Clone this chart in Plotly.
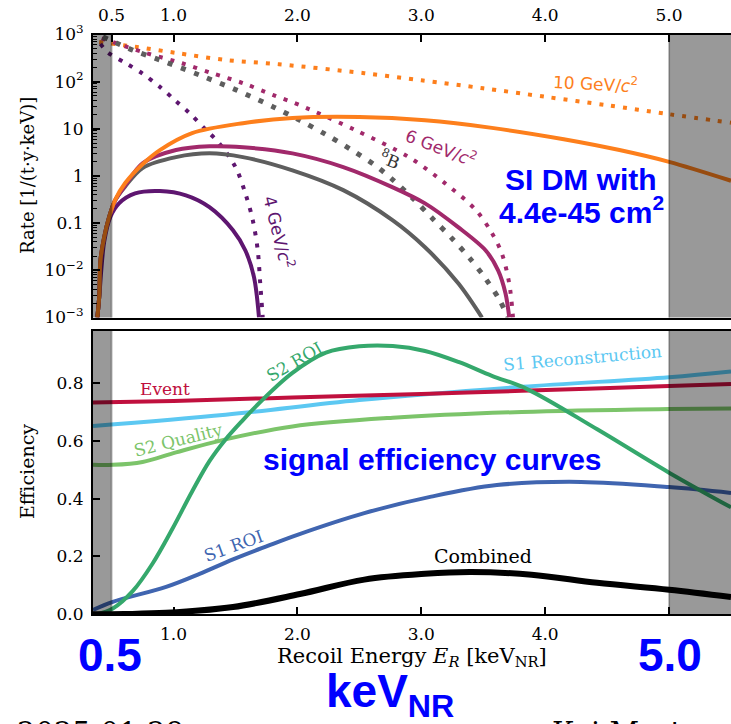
import plotly.graph_objects as go

W, H = 731, 724

# ---------------- data ----------------
# Top panel: rate spectra, stored as log10(rate [1/(t y keV)])
E_dm10_dot = [0.40, 0.69, 1.02, 1.42, 1.85, 2.54, 3.0, 3.5, 4.0, 4.5, 5.0, 5.5]
L_dm10_dot = [2.84, 2.74, 2.61, 2.46, 2.37, 2.18, 2.03, 1.86, 1.68, 1.50, 1.31, 1.13]

E_dm6_dot = [0.42, 0.75, 1.07, 1.31, 1.56, 1.80, 2.02, 2.47, 2.90, 3.19, 3.44, 3.57, 3.65, 3.71, 3.74]
L_dm6_dot = [2.92, 2.63, 2.39, 2.18, 1.97, 1.72, 1.50, 0.97, 0.40, -0.15, -0.72, -1.21, -1.64, -2.28, -3.0]

E_dm4_dot = [0.41, 0.47, 0.61, 0.75, 0.89, 1.01, 1.13, 1.25, 1.37, 1.50, 1.58, 1.64, 1.68, 1.70, 1.72]
L_dm4_dot = [2.80, 2.62, 2.40, 2.17, 1.89, 1.61, 1.33, 1.01, 0.69, 0.19, -0.37, -0.94, -1.58, -2.28, -3.0]

E_b8_dot = [0.43, 0.67, 0.89, 1.21, 1.51, 1.81, 2.02, 2.23, 2.44, 2.63, 2.77, 2.93, 3.09, 3.25, 3.39, 3.52, 3.63, 3.70]
L_b8_dot = [2.95, 2.67, 2.46, 2.14, 1.82, 1.46, 1.18, 0.88, 0.55, 0.22, -0.08, -0.47, -0.90, -1.33, -1.74, -2.18, -2.62, -3.0]

E_dm10 = [0.385, 0.40, 0.41, 0.44, 0.48, 0.53, 0.61, 0.75, 0.89, 1.15, 1.56, 1.96, 2.50, 3.03, 3.57, 4.15, 4.6, 5.0, 5.5]
L_dm10 = [-3.0, -2.57, -1.79, -1.30, -0.87, -0.50, -0.15, 0.25, 0.55, 0.91, 1.12, 1.23, 1.25, 1.18, 1.02, 0.78, 0.55, 0.30, -0.10]

E_dm6 = [0.385, 0.40, 0.41, 0.44, 0.48, 0.53, 0.61, 0.75, 1.02, 1.29, 1.56, 1.96, 2.37, 2.77, 3.03, 3.30, 3.52, 3.62, 3.68, 3.71]
L_dm6 = [-3.0, -2.57, -1.79, -1.30, -0.87, -0.51, -0.20, 0.27, 0.55, 0.63, 0.61, 0.48, 0.19, -0.24, -0.58, -1.09, -1.58, -2.0, -2.49, -3.0]

E_b8 = [0.385, 0.40, 0.41, 0.44, 0.48, 0.53, 0.61, 0.75, 1.02, 1.29, 1.56, 1.96, 2.37, 2.77, 3.03, 3.30, 3.49]
L_b8 = [-3.0, -2.57, -1.79, -1.30, -0.87, -0.51, -0.22, 0.17, 0.40, 0.48, 0.40, 0.12, -0.30, -0.94, -1.51, -2.28, -3.0]

E_dm4 = [0.385, 0.40, 0.44, 0.49, 0.56, 0.69, 0.89, 1.10, 1.29, 1.48, 1.58, 1.65, 1.69]
L_dm4 = [-3.0, -2.57, -1.40, -0.87, -0.58, -0.37, -0.32, -0.41, -0.66, -1.15, -1.58, -2.15, -3.0]

# Bottom panel: efficiencies
E_event = [0.35, 1.0, 1.96, 3.0, 3.81, 5.0, 5.5]
eff_event = [0.733, 0.738, 0.75, 0.762, 0.773, 0.79, 0.797]

E_s1reco = [0.35, 1.42, 2.50, 3.81, 5.0, 5.5]
eff_s1reco = [0.651, 0.69, 0.741, 0.787, 0.82, 0.84]

E_s2q = [0.35, 0.51, 0.75, 1.02, 1.42, 1.96, 2.77, 3.81, 5.0, 5.5]
eff_s2q = [0.517, 0.517, 0.527, 0.56, 0.605, 0.65, 0.68, 0.70, 0.71, 0.712]

E_s2roi = [0.38, 0.51, 0.67, 0.83, 0.99, 1.15, 1.29, 1.42, 1.56, 1.69, 1.96, 2.23, 2.50, 2.77, 3.03, 3.30, 3.57, 3.85, 4.42, 5.0, 5.5]
eff_s2roi = [0.0, 0.02, 0.08, 0.175, 0.295, 0.425, 0.53, 0.605, 0.672, 0.73, 0.835, 0.905, 0.927, 0.928, 0.911, 0.873, 0.825, 0.78, 0.64, 0.49, 0.37]

E_s1roi = [0.35, 0.51, 0.94, 1.21, 1.48, 1.75, 2.0, 2.54, 3.08, 3.61, 4.29, 5.0, 5.5]
eff_s1roi = [0.015, 0.043, 0.095, 0.14, 0.19, 0.235, 0.275, 0.35, 0.407, 0.447, 0.458, 0.44, 0.42]

E_comb = [0.35, 0.6, 0.94, 1.48, 2.02, 2.54, 3.03, 3.40, 3.89, 4.42, 5.0, 5.5]
eff_comb = [0.0, 0.001, 0.005, 0.025, 0.07, 0.12, 0.14, 0.146, 0.137, 0.109, 0.085, 0.06]

top_tickvals = [0.5, 1.0, 2.0, 3.0, 4.0, 5.0]
top_ticktext = ["0.5", "1.0", "2.0", "3.0", "4.0", "5.0"]
bot_tickvals = [1.0, 2.0, 3.0, 4.0, 5.0]
bot_ticktext = ["1.0", "2.0", "3.0", "4.0", ""]
rate_tickvals = [1e-3, 1e-2, 0.1, 1, 10, 100, 1000]
rate_ticktext = ["10<sup>−3</sup>", "10<sup>−2</sup>", "0.1", "1", "10", "10<sup>2</sup>", "10<sup>3</sup>"]
eff_tickvals = [0.0, 0.2, 0.4, 0.6, 0.8]
eff_ticktext = ["0.0", "0.2", "0.4", "0.6", "0.8"]
minor_rate = [m * 10.0 ** d for d in range(-3, 3) for m in range(2, 10)]

# ---------------- styling ----------------
C_OR = "#fd7f1c"
C_MG = "#a1296b"
C_PU = "#5e1670"
C_GR = "#5e5e5e"
C_EV = "#c0103e"
C_S1R = "#5cc8f2"
C_S2Q = "#7cc46a"
C_S2ROI = "#35a86c"
C_S1ROI = "#4065b0"
SERIF = "DejaVu Serif"
SANS = "DejaVu Sans"
BLUE = "#0000ff"


def px(x):
    return x / W


def py(y):
    return 1 - y / H


def tolin(L):
    return [10 ** v for v in L]


fig = go.Figure()

def add_top(E, L, color, dotted, width=4, dash="4px,8px"):
    fig.add_trace(go.Scatter(
        x=E, y=tolin(L), mode="lines", xaxis="x", yaxis="y",
        line=dict(color=color, width=width, dash=dash if dotted else "solid",
                  shape="spline", smoothing=0.9),
        showlegend=False, hoverinfo="skip"))

add_top(E_dm10_dot, L_dm10_dot, C_OR, True)
add_top(E_dm6_dot, L_dm6_dot, C_MG, True)
add_top(E_dm4_dot, L_dm4_dot, C_PU, True)
add_top(E_b8_dot, L_b8_dot, C_GR, True, width=5, dash="5px,9px")
add_top(E_dm4, L_dm4, C_PU, False)
add_top(E_b8, L_b8, C_GR, False)
add_top(E_dm6, L_dm6, C_MG, False)
add_top(E_dm10, L_dm10, C_OR, False)

def add_bot(E, eff, color, width=4):
    fig.add_trace(go.Scatter(
        x=E, y=eff, mode="lines", xaxis="x2", yaxis="y2",
        line=dict(color=color, width=width, shape="spline", smoothing=1.0),
        showlegend=False, hoverinfo="skip"))

add_bot(E_s2q, eff_s2q, C_S2Q)
add_bot(E_s1reco, eff_s1reco, C_S1R)
add_bot(E_event, eff_event, C_EV)
add_bot(E_s1roi, eff_s1roi, C_S1ROI)
add_bot(E_s2roi, eff_s2roi, C_S2ROI)
add_bot(E_comb, eff_comb, "#000000", width=6)

X0 = 93 / W
top_dom = [py(317.5), py(34.5)]
bot_dom = [py(614.3), py(331)]
tick_font = dict(family=SERIF, size=17, color="black")

axis_common = dict(showline=True, linewidth=2, linecolor="black", mirror=True,
                   showgrid=False, zeroline=False, ticks="inside", ticklen=7,
                   tickwidth=2, tickcolor="black", tickfont=tick_font,
                   automargin=False)

fig.update_layout(
    width=W, height=H,
    margin=dict(l=0, r=0, t=0, b=0),
    paper_bgcolor="white", plot_bgcolor="white",
    showlegend=False,
    xaxis=dict(domain=[X0, 1.0], range=[0.35, 5.5], anchor="y", side="top",
               tickmode="array", tickvals=top_tickvals, ticktext=top_ticktext,
               ticklabelstandoff=5, **axis_common),
    yaxis=dict(domain=top_dom, type="log", range=[-3, 3], anchor="x",
               tickmode="array", tickvals=rate_tickvals, ticktext=rate_ticktext,
               ticklabelstandoff=4,
               minor=dict(tickmode="array", tickvals=minor_rate, ticks="inside",
                          ticklen=4, tickwidth=1, tickcolor="black"),
               **axis_common),
    xaxis2=dict(domain=[X0, 1.0], range=[0.35, 5.5], anchor="y2",
                tickmode="array", tickvals=bot_tickvals, ticktext=bot_ticktext,
                ticklabelstandoff=3, **axis_common),
    yaxis2=dict(domain=bot_dom, range=[0, 0.98], anchor="x2",
                tickmode="array", tickvals=eff_tickvals, ticktext=eff_ticktext,
                ticklabelstandoff=4, **axis_common),
)

# shaded regions outside 0.5 - 5.0 keV
for xr, yr in (("x", "y domain"), ("x2", "y2 domain")):
    for a, b, edge in ((0.35, 0.5, 0.5), (5.0, 5.5, 5.0)):
        fig.add_shape(type="rect", xref=xr, yref=yr, x0=a, x1=b, y0=0, y1=1,
                      fillcolor="rgba(0,0,0,0.4)", line=dict(width=0), layer="above")
        fig.add_shape(type="line", xref=xr, yref=yr, x0=edge, x1=edge, y0=0, y1=1,
                      line=dict(color="rgba(0,0,0,0.25)", width=2), layer="above")

def ann(text, x, y, size=17, color="black", family=SERIF, angle=0, bold=False,
        xanchor="center", yanchor="middle"):
    if bold:
        text = "<b>" + text + "</b>"
    fig.add_annotation(text=text, x=px(x), y=py(y), xref="paper", yref="paper",
                       showarrow=False, textangle=angle, xanchor=xanchor,
                       yanchor=yanchor,
                       font=dict(family=family, size=size, color=color))

# top panel labels
ann("10 GeV/<i>c</i><sup>2</sup>", 595, 83, size=17, color=C_OR, family=SANS, angle=3)
ann("6 GeV/<i>c</i><sup>2</sup>", 441, 147, size=17, color=C_MG, family=SANS, angle=21)
ann("<sup>8</sup>B", 390, 159, size=17, color="#333333", family=SERIF, angle=22)
ann("4 GeV/<i>c</i><sup>2</sup>", 279, 232, size=17, color=C_PU, family=SANS, angle=76)
ann("SI DM with", 581, 179, size=30, color=BLUE, family="Liberation Sans", bold=True)
ann("4.4e-45 cm<sup>2</sup>", 581, 210, size=30, color=BLUE, family="Liberation Sans", bold=True)

# bottom panel labels
ann("Event", 165, 389, size=17, color=C_EV)
ann("S2 ROI", 294, 362, size=17, color=C_S2ROI, angle=-30)
ann("S1 Reconstruction", 582, 358, size=17, color=C_S1R, angle=-5)
ann("S2 Quality", 178, 440, size=17, color=C_S2Q, angle=-14)
ann("S1 ROI", 233, 546, size=17, color=C_S1ROI, angle=-20)
ann("Combined", 483, 556, size=19, color="black")
ann("signal efficiency curves", 432, 459, size=30, color=BLUE, family="Liberation Sans", bold=True)

# axis titles
ann("Rate [1/(t·y·keV)]", 27, 176, size=18, angle=-90)
ann("Efficiency", 27, 472, size=19, angle=-90)
ann("Recoil Energy <i>E<sub>R</sub></i> [keV<sub>NR</sub>]", 412, 657, size=21)

# big blue overlay labels
ann("0.5", 110, 655, size=46, color=BLUE, family="Liberation Sans", bold=True)
ann("5.0", 670, 655, size=46, color=BLUE, family="Liberation Sans", bold=True)
ann("keV<sub>NR</sub>", 390, 694, size=46, color=BLUE, family="Liberation Sans", bold=True)

# cropped footer text
ann("2025-01-29", 15, 714, size=29, family=SERIF, xanchor="left", yanchor="top")
ann("Kai Martens", 550, 714, size=29, family=SERIF, xanchor="left", yanchor="top")

fig.write_html("out.html")
